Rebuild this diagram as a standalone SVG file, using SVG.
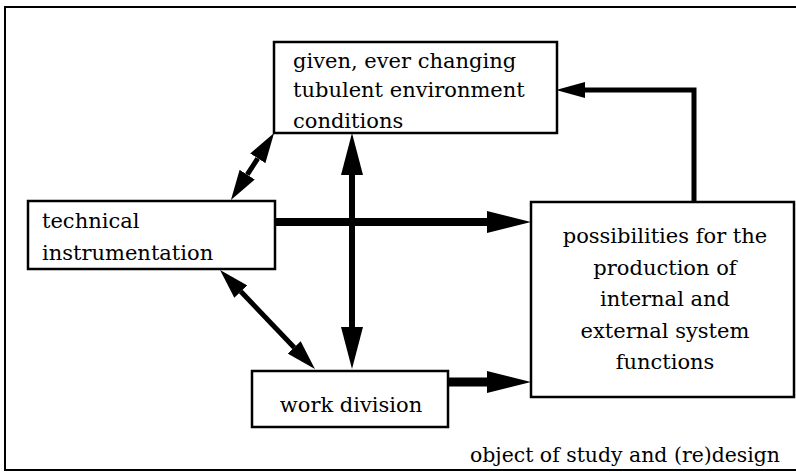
<svg xmlns="http://www.w3.org/2000/svg" width="796" height="472" viewBox="0 0 796 472">
<style>
.box{fill:#fff;stroke:#000;stroke-width:2.5}
.frame{fill:none;stroke:#000;stroke-width:2}
.t{font-family:"DejaVu Serif","Liberation Serif",serif;font-size:21px;fill:#000}
.c{text-anchor:middle}
.ln{fill:none;stroke:#000;stroke-linejoin:miter}
</style>
<defs>
<marker id="mkL" markerUnits="userSpaceOnUse" markerWidth="44" markerHeight="22" viewBox="0 -11 44 22" refX="0" refY="0" orient="auto-start-reverse"><path d="M0,-11 L44,0 L0,11 z" fill="#000"/></marker>
<marker id="mkV" markerUnits="userSpaceOnUse" markerWidth="42" markerHeight="22" viewBox="0 -11 42 22" refX="0" refY="0" orient="auto-start-reverse"><path d="M0,-11 L42,0 L0,11 z" fill="#000"/></marker>
<marker id="mkS" markerUnits="userSpaceOnUse" markerWidth="29" markerHeight="16" viewBox="0 -8 29 16" refX="0" refY="0" orient="auto-start-reverse"><path d="M0,-8 L29,0 L0,8 z" fill="#000"/></marker>
<marker id="mkD" markerUnits="userSpaceOnUse" markerWidth="30" markerHeight="18" viewBox="0 -9 30 18" refX="0" refY="0" orient="auto-start-reverse"><path d="M0,-9 L30,0 L0,9 z" fill="#000"/></marker>
</defs>
<rect class="frame" x="5" y="7" width="800" height="463"/>
<g id="connectors">
<path class="ln" d="M275,222 H487" stroke-width="8" marker-end="url(#mkL)"/>
<path class="ln" d="M352,175 V327" stroke-width="6" marker-start="url(#mkV)" marker-end="url(#mkV)"/>
<path class="ln" d="M694,202 V90 H585" stroke-width="5" marker-end="url(#mkS)"/>
<path class="ln" d="M257.8,158.3 L247.2,174.7" stroke-width="5" marker-start="url(#mkD)" marker-end="url(#mkD)"/>
<path class="ln" d="M240.8,291.6 L294.2,347.4" stroke-width="5" marker-start="url(#mkD)" marker-end="url(#mkD)"/>
<path class="ln" d="M448,382 H487" stroke-width="9" marker-end="url(#mkL)"/>
</g>
<g id="env">
<rect class="box" x="274" y="42" width="283" height="91"/>
<text class="t" x="293" y="68">given, ever changing</text>
<text class="t" x="293" y="97">tubulent environment</text>
<text class="t" x="293" y="128">conditions</text>
</g>
<g id="tech">
<rect class="box" x="28" y="201" width="247" height="68"/>
<text class="t" x="42" y="228">technical</text>
<text class="t" x="42" y="260">instrumentation</text>
</g>
<g id="poss">
<rect class="box" x="531" y="202" width="263" height="195"/>
<text class="t c" x="665" y="243">possibilities for the</text>
<text class="t c" x="665" y="275">production of</text>
<text class="t c" x="665" y="306">internal and</text>
<text class="t c" x="665" y="338">external system</text>
<text class="t c" x="665" y="369">functions</text>
</g>
<g id="work">
<rect class="box" x="252" y="371" width="196" height="56"/>
<text class="t c" x="351" y="412">work division</text>
</g>
<g id="label">
<text class="t" x="470" y="462" textLength="310" lengthAdjust="spacingAndGlyphs">object of study and (re)design</text>
</g>
</svg>
